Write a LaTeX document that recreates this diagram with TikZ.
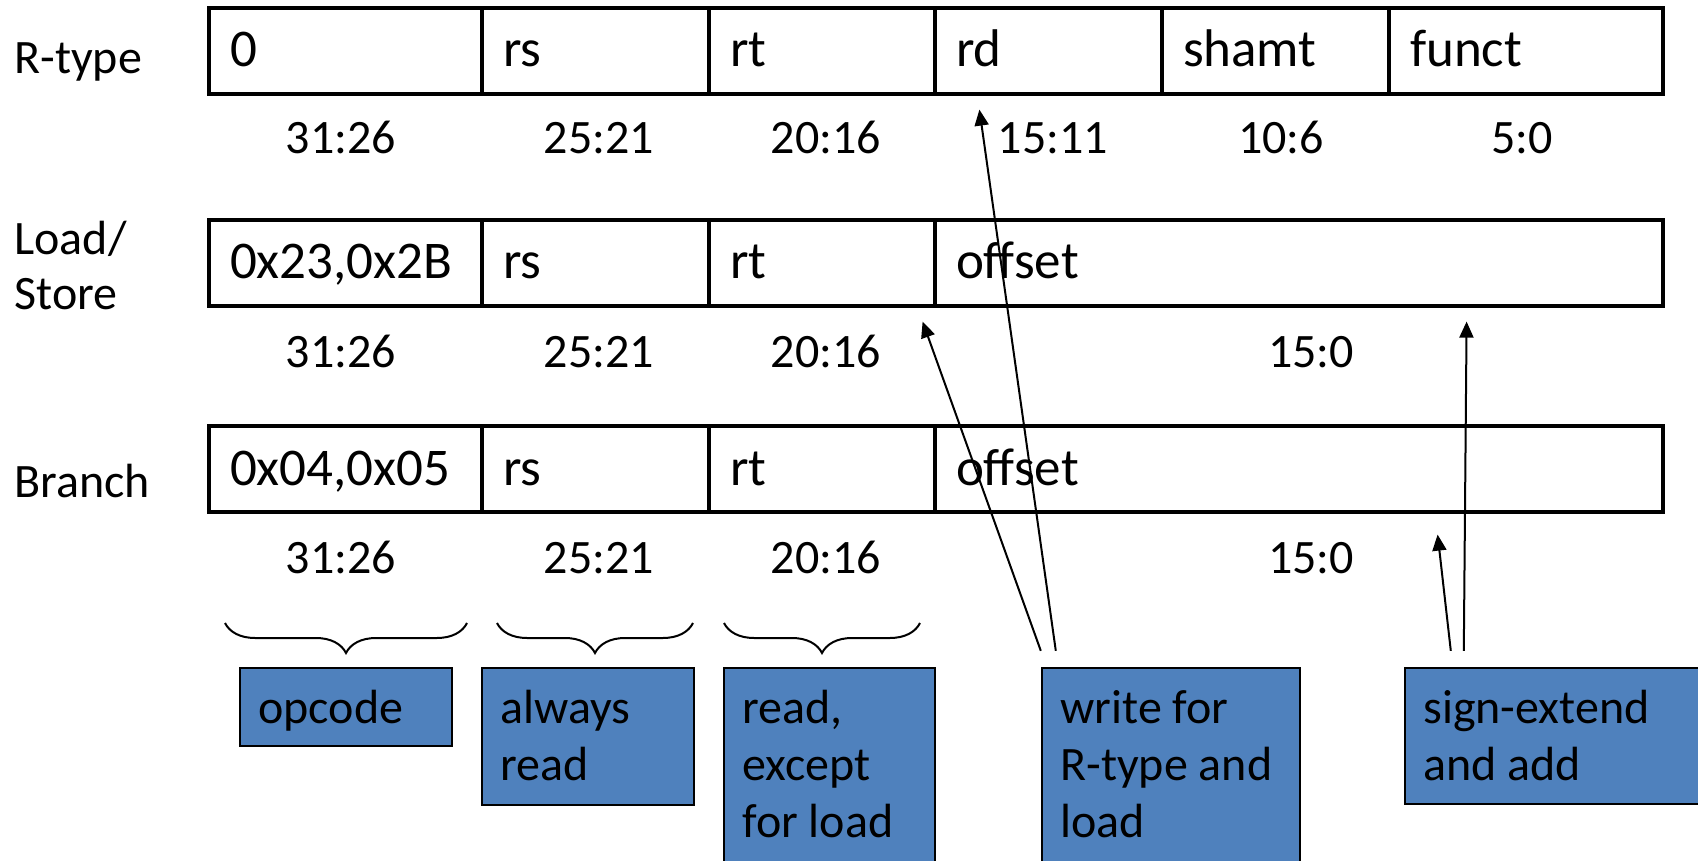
\documentclass[tikz,border=0pt]{standalone}
\usepackage{fontspec}
\setmainfont{Carlito}
\usetikzlibrary{arrows.meta,decorations.pathreplacing}
\definecolor{boxblue}{HTML}{4F81BD}
\begin{document}
\begin{tikzpicture}[x=0.5pt,y=-0.5pt,
  bigfont/.style={font=\fontsize{24}{28.5}\selectfont},
  field/.style={draw, line width=1.6pt, text width=#1, inner xsep=10.5pt, inner ysep=0pt,
    minimum height=43pt, text height=20pt, text depth=4pt, align=left,
    font=\fontsize{26.5}{30}\selectfont},
  bits/.style={anchor=base, inner sep=0pt, bigfont},
  rowlab/.style={anchor=base west, inner sep=0pt, font=\fontsize{24}{27.5}\selectfont},
  bluebox/.style={draw=black, fill=boxblue, line width=1.2pt, inner sep=0pt},
  btext/.style={anchor=base west, inner sep=0pt, bigfont},
  arr/.style={line width=1pt, -{Triangle[length=8pt,width=7pt]}},
  bracestyle/.style={line width=1pt, decorate, decoration={brace, mirror, amplitude=15pt}}
]
\useasboundingbox (0,0) rectangle (1698,861);
\clip (0,0) rectangle (1698,861);

% row labels
\node[rowlab] (lr) at (14,74) {R-type};
\node[rowlab] (ll) at (14,255) {\begin{tabular}[t]{@{}l@{}}Load/\\Store\end{tabular}};
\node[rowlab] (lb) at (14,497) {Branch};

% R-type row
\node[field=115.5pt] (r1) at (345.5,51) {0};
\node[field=92.5pt] (r2) at (595.5,51) {rs};
\node[field=92pt] (r3) at (822,51) {rt};
\node[field=92.5pt] (r4) at (1048.5,51) {rd};
\node[field=92.5pt] (r5) at (1275.5,51) {shamt};
\node[field=116pt] (r6) at (1526,51) {funct};

% Load/Store row
\node[field=115.5pt] (m1) at (345.5,263) {0x23,0x2B};
\node[field=92.5pt] (m2) at (595.5,263) {rs};
\node[field=92pt] (m3) at (822,263) {rt};
\node[field=343pt] (m4) at (1299,263) {offset};

% Branch row
\node[field=115.5pt] (b1) at (345.5,469) {0x04,0x05};
\node[field=92.5pt] (b2) at (595.5,469) {rs};
\node[field=92pt] (b3) at (822,469) {rt};
\node[field=343pt] (b4) at (1299,469) {offset};

% bit ranges
\node[bits] (n11) at (341,154) {31:26};
\node[bits] (n12) at (599,154) {25:21};
\node[bits] (n13) at (826,154) {20:16};
\node[bits] (n14) at (1053,154) {15:11};
\node[bits] (n15) at (1281,154) {10:6};
\node[bits] (n16) at (1522,154) {5:0};

\node[bits] (n21) at (341,367) {31:26};
\node[bits] (n22) at (599,367) {25:21};
\node[bits] (n23) at (826,367) {20:16};
\node[bits] (n24) at (1311,367) {15:0};

\node[bits] (n31) at (341,573) {31:26};
\node[bits] (n32) at (599,573) {25:21};
\node[bits] (n33) at (826,573) {20:16};
\node[bits] (n34) at (1311,573) {15:0};

% braces
\draw[bracestyle] (225,623) -- (467,623);
\draw[bracestyle] (497,623) -- (693,623);
\draw[bracestyle] (724,623) -- (920,623);

% blue boxes
\node[bluebox, minimum width=106pt, minimum height=39pt] (opc) at (346,707) {};
\node[bluebox, minimum width=106pt, minimum height=68.5pt] (alw) at (588,736.5) {};
\node[bluebox, minimum width=105.5pt, minimum height=97pt] (rex) at (829.5,765) {};
\node[bluebox, minimum width=129pt, minimum height=99pt] (wrt) at (1171,767) {};
\node[bluebox, minimum width=160pt, minimum height=68pt] (sgn) at (1565,736) {};

\node[btext] (topc) at (258,723) {opcode};
\node[btext] (talw) at (500,723) {\begin{tabular}[t]{@{}l@{}}always\\read\end{tabular}};
\node[btext] (trex) at (742,723) {\begin{tabular}[t]{@{}l@{}}read,\\except\\for load\end{tabular}};
\node[btext] (twrt) at (1060,723) {\begin{tabular}[t]{@{}l@{}}write for\\R-type and\\load\end{tabular}};
\node[btext] (tsgn) at (1423,723) {\begin{tabular}[t]{@{}l@{}}sign-extend\\and add\end{tabular}};

% arrows
\draw[arr] ([xshift=7.5pt,yshift=8pt]wrt.north west) -- ([xshift=23pt,yshift=-7pt]r4.south west);
\draw[arr] ([yshift=8pt]wrt.north west) -- ([xshift=-7pt,yshift=-7pt]m3.south east);
\draw[arr] ([xshift=23.5pt,yshift=8pt]sgn.north west) -- ([xshift=-113.5pt,yshift=-10.5pt]b4.south east);
\draw[arr] ([xshift=30pt,yshift=8pt]sgn.north west) -- ([xshift=-99pt,yshift=-7pt]m4.south east);
\end{tikzpicture}
\end{document}
